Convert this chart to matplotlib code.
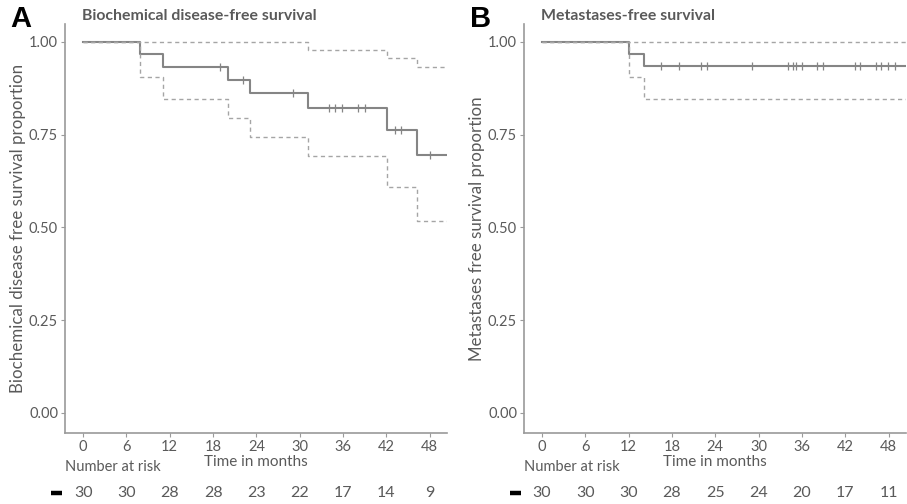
import matplotlib
matplotlib.use("Agg")
import matplotlib.pyplot as plt
import matplotlib.transforms as mtransforms
from matplotlib.lines import Line2D
import numpy as np

plt.rcParams["font.family"] = ["Lato", "DejaVu Sans"]

# Kaplan-Meier estimates (time in months)
bdfs_time = [0, 7.9, 11.0, 20.1, 23.1, 31.1, 42.1, 46.2]
bdfs_surv = [1.0, 0.967, 0.933, 0.898, 0.862, 0.823, 0.764, 0.694]
bdfs_upper = [1.0, 1.0, 1.0, 1.0, 1.0, 0.978, 0.958, 0.932]
bdfs_lower = [1.0, 0.905, 0.846, 0.795, 0.744, 0.693, 0.608, 0.517]
bdfs_censor = [18.9, 22.2, 29.1, 34.1, 34.9, 35.9, 38.1, 39.0, 43.2, 44.1, 48.0]
bdfs_risk = [30, 30, 28, 28, 23, 22, 17, 14, 9]

mfs_time = [0, 12.1, 14.1]
mfs_surv = [1.0, 0.967, 0.934]
mfs_upper = [1.0, 1.0, 1.0]
mfs_lower = [1.0, 0.906, 0.846]
mfs_censor = [16.5, 19.0, 22.0, 22.9, 29.1, 34.1, 34.7, 35.2, 36.0, 38.1,
              38.9, 43.4, 44.1, 46.2, 47.0, 47.9, 48.9]
mfs_risk = [30, 30, 30, 28, 25, 24, 20, 17, 11]

risk_times = [0, 6, 12, 18, 24, 30, 36, 42, 48]

XMAX = 50.4
grey_txt = "#5a5a5a"
grey_ax = "#9a9a9a"
line_col = "#858585"


def km_plot(ax, t, s, up, lo, cens, title, ylabel):
    tt = list(t) + [XMAX]
    ax.step(tt, list(s) + [s[-1]], where="post", color=line_col, lw=1.5)
    ax.step(tt, list(up) + [up[-1]], where="post", color="#a5a5a5", lw=1.0,
            ls=(0, (3, 2.5)))
    ax.step(tt, list(lo) + [lo[-1]], where="post", color="#a5a5a5", lw=1.0,
            ls=(0, (3, 2.5)))
    # censoring ticks on the survival curve
    idx = np.searchsorted(t, cens, side="right") - 1
    ax.plot(cens, np.array(s)[idx], ls="none", marker="|", ms=6,
            mew=0.9, color=line_col)

    ax.set_xlim(-2.5, XMAX)
    ax.set_ylim(-0.054, 1.048)
    ax.set_xticks(risk_times)
    ax.set_yticks([0, 0.25, 0.5, 0.75, 1.0])
    ax.set_yticklabels(["0.00", "0.25", "0.50", "0.75", "1.00"])
    for sp in ["top", "right"]:
        ax.spines[sp].set_visible(False)
    for sp in ["left", "bottom"]:
        ax.spines[sp].set_color(grey_ax)
        ax.spines[sp].set_linewidth(1.2)
    ax.tick_params(colors=grey_ax, labelcolor=grey_txt, labelsize=10.5,
                   length=3, width=0.8, pad=2)
    ax.set_title(title, loc="left", fontsize=11.4, fontweight="bold",
                 color=grey_txt, x=0.045, y=1.0, pad=3)
    ax.set_ylabel(ylabel, fontsize=12.2, color=grey_txt, labelpad=2)


def risk_table(fig, ax, risk, x_num):
    tr = mtransforms.blended_transform_factory(ax.transData, fig.transFigure)
    ax.text(24, 0.084, "Time in months", transform=tr, ha="center",
            va="center", fontsize=11, color=grey_txt)
    fig.text(x_num, 0.073, "Number at risk", ha="left", va="center",
             fontsize=10.5, color=grey_txt)
    for xt, n in zip(risk_times, risk):
        ax.text(xt, 0.022, str(n), transform=tr, ha="center", va="center",
                fontsize=11.5, color=grey_txt)


fig = plt.figure(figsize=(9.07, 5.04), dpi=100)
ax1 = fig.add_axes([0.0717, 0.141, 0.4211, 0.811])
ax2 = fig.add_axes([0.5777, 0.141, 0.4211, 0.811])

km_plot(ax1, bdfs_time, bdfs_surv, bdfs_upper, bdfs_lower, bdfs_censor,
        "Biochemical disease-free survival",
        "Biochemical disease free survival proportion")
km_plot(ax2, mfs_time, mfs_surv, mfs_upper, mfs_lower, mfs_censor,
        "Metastases-free survival",
        "Metastases free survival proportion")

risk_table(fig, ax1, bdfs_risk, 0.072)
risk_table(fig, ax2, mfs_risk, 0.578)

# strata key in front of each risk row
for x0 in [0.0562, 0.5623]:
    fig.add_artist(Line2D([x0, x0 + 0.012], [0.022, 0.022], color="black",
                          lw=3.2, solid_capstyle="butt"))

fig.text(0.011, 0.962, "A", fontsize=21, fontweight="bold",
         family="Liberation Sans", va="center")
fig.text(0.518, 0.962, "B", fontsize=21, fontweight="bold",
         family="Liberation Sans", va="center")

fig.savefig("out.png", dpi=100)
